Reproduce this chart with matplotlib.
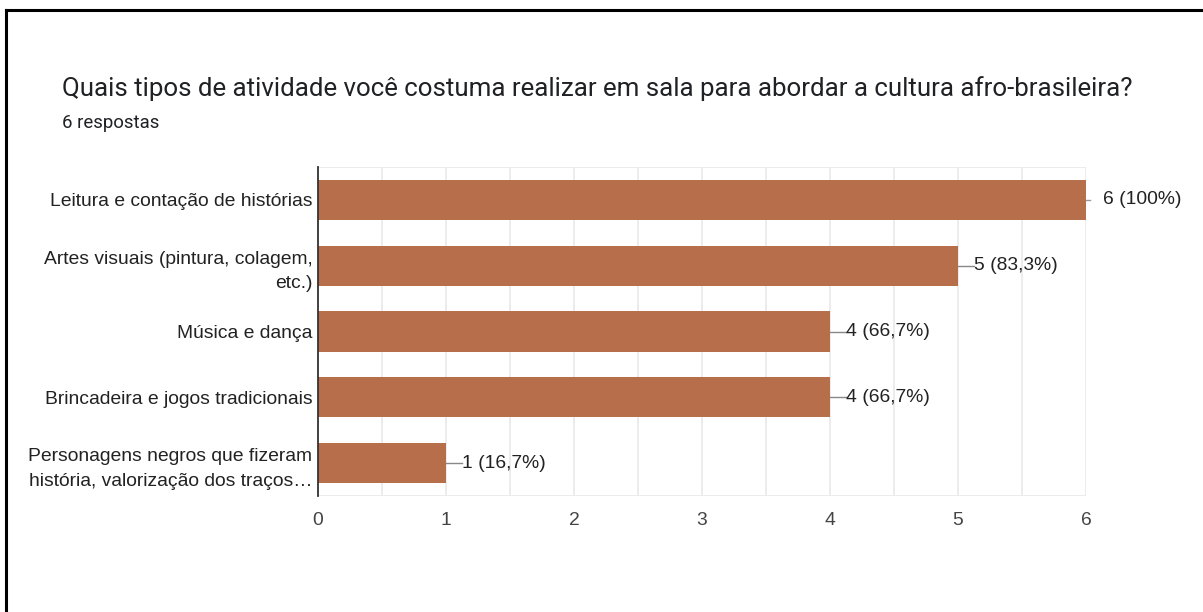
import matplotlib
matplotlib.use("Agg")
import matplotlib.pyplot as plt
from matplotlib.lines import Line2D

categories = [
    "Leitura e contação de histórias",
    "Artes visuais (pintura, colagem,\netc.)",
    "Música e dança",
    "Brincadeira e jogos tradicionais",
    "Personagens negros que fizeram\nhistória, valorização dos traços…",
]
counts = [6, 5, 4, 4, 1]
value_labels = ["6 (100%)", "5 (83,3%)", "4 (66,7%)", "4 (66,7%)", "1 (16,7%)"]
x_ticks = [0, 1, 2, 3, 4, 5, 6]

title = "Quais tipos de atividade você costuma realizar em sala para abordar a cultura afro-brasileira?"
subtitle = "6 respostas"

bar_color = "#B76E4B"
grid_color = "#EBEBEB"
text_color = "#222222"
label_size = 13.9

W, H = 1203, 612
fig = plt.figure(figsize=(W / 100, H / 100), dpi=100)
fig.patch.set_facecolor("white")

ax = fig.add_axes([318 / W, 1 - 496 / H, 768 / W, 329 / H])
ypos = list(range(len(categories)))
ax.barh(ypos, counts, height=0.61, color=bar_color, zorder=3)
ax.set_ylim(len(categories) - 0.5, -0.5)
ax.set_xlim(0, 6)

# grid at half-unit steps
for v in [i * 0.5 for i in range(13)]:
    ax.axvline(v, color=grid_color, lw=1.3, zorder=1)
ax.axhline(-0.5, color=grid_color, lw=1.3, zorder=1)
ax.axhline(len(categories) - 0.5, color=grid_color, lw=1.3, zorder=1)

for s in ["top", "right", "bottom"]:
    ax.spines[s].set_visible(False)
ax.spines["left"].set_color("#333333")
ax.spines["left"].set_linewidth(1.3)
ax.spines["left"].set_zorder(4)

ax.set_yticks(ypos)
ax.set_yticklabels(categories, fontsize=label_size, family="Liberation Sans",
                   color=text_color, linespacing=1.6)
ax.tick_params(axis="y", length=0, pad=4)
ax.set_xticks(x_ticks)
ax.set_xticklabels([str(t) for t in x_ticks], fontsize=label_size,
                   family="Liberation Sans", color="#444444")
ax.tick_params(axis="x", length=0, pad=11.5)

# value labels with short leader lines
for y, c, lab in zip(ypos, counts, value_labels):
    if c >= 6:
        ax.plot([c, c + 0.03], [y, y], color="#999999", lw=1, zorder=2,
                clip_on=False)
        ax.annotate(lab, (c, y), xytext=(12.5, 0), textcoords="offset points",
                    va="center", ha="left", fontsize=label_size,
                    family="Liberation Sans", color=text_color)
    else:
        ax.annotate(lab, (c, y), xytext=(11.5, 0), textcoords="offset points",
                    va="center", ha="left", fontsize=label_size,
                    family="Liberation Sans", color=text_color)
        ax.plot([c, c + 0.125], [y, y], color="#888888", lw=1, zorder=2,
                clip_on=False)

fig.text(62 / W, 1 - 89 / H, title, fontsize=18.6, family="Roboto",
         color="#202124", va="center", ha="left")
fig.text(62 / W, 1 - 123 / H, subtitle, fontsize=13.4, family="Roboto",
         color="#202124", va="center", ha="left")

# frame lines along the top and left edges
fig.add_artist(Line2D([6 / W, 1], [1 - 10 / H, 1 - 10 / H], color="black",
                      lw=2.2, transform=fig.transFigure))
fig.add_artist(Line2D([6 / W, 6 / W], [0, 1 - 10 / H], color="black",
                      lw=2.2, transform=fig.transFigure))

fig.savefig("out.png", dpi=100)
